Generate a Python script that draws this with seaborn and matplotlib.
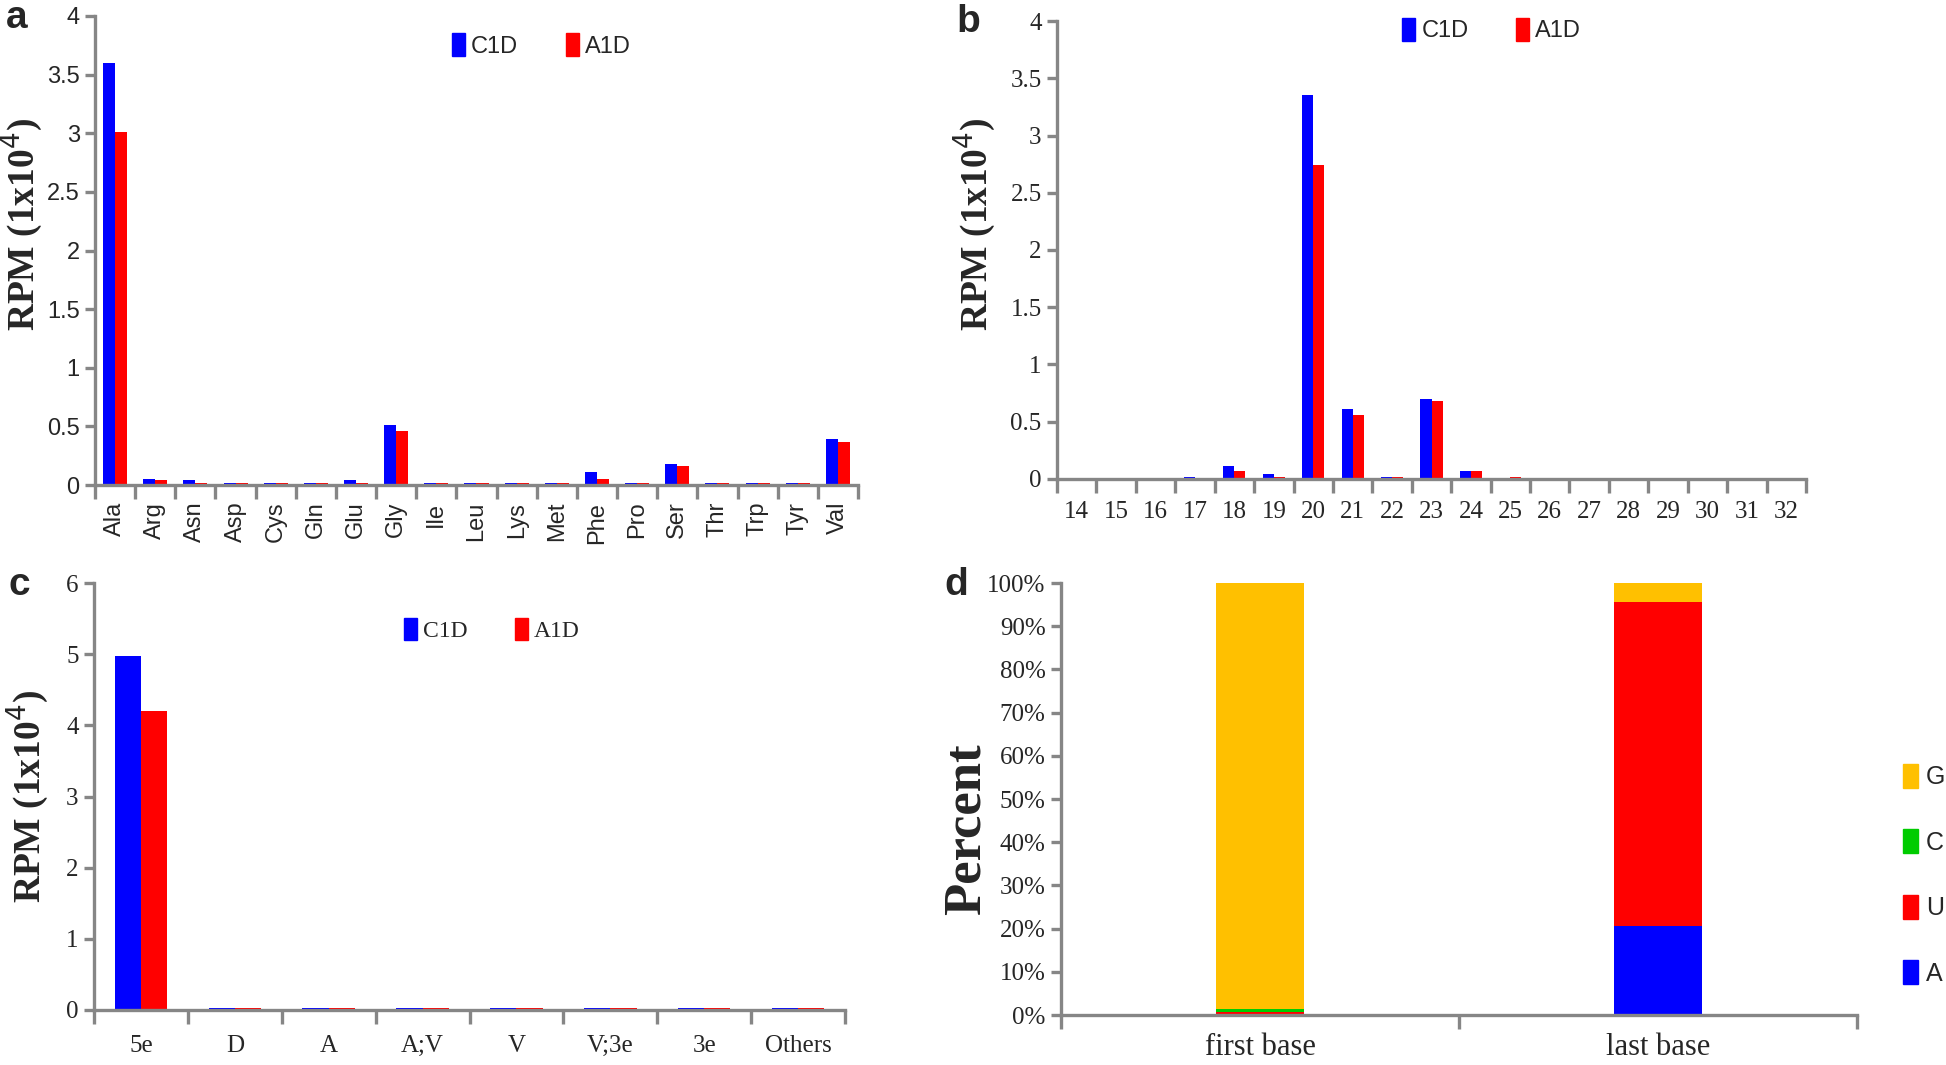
import numpy as np
import pandas as pd
import matplotlib
matplotlib.use("Agg")
import matplotlib.pyplot as plt
import seaborn as sns
from matplotlib.patches import Patch
from matplotlib.ticker import FuncFormatter, MultipleLocator

# Dados
aminoacidos = ['Ala', 'Arg', 'Asn', 'Asp', 'Cys', 'Gln', 'Glu', 'Gly', 'Ile', 'Leu',
               'Lys', 'Met', 'Phe', 'Pro', 'Ser', 'Thr', 'Trp', 'Tyr', 'Val']
amino_c1d = [3.60, 0.05, 0.04, 0.02, 0.02, 0.02, 0.04, 0.51, 0.02, 0.02,
             0.02, 0.02, 0.11, 0.02, 0.18, 0.02, 0.02, 0.02, 0.39]
amino_a1d = [3.01, 0.04, 0.02, 0.02, 0.02, 0.02, 0.02, 0.46, 0.02, 0.02,
             0.02, 0.02, 0.05, 0.02, 0.16, 0.02, 0.02, 0.02, 0.37]

comprimentos = [str(i) for i in range(14, 33)]
comp_c1d = [0, 0, 0, 0.02, 0.11, 0.04, 3.35, 0.61, 0.02, 0.70, 0.07, 0,
            0, 0, 0, 0, 0, 0, 0]
comp_a1d = [0, 0, 0, 0, 0.07, 0.02, 2.74, 0.56, 0.02, 0.68, 0.07, 0.02,
            0, 0, 0, 0, 0, 0, 0]

regioes = ['5e', 'D', 'A', 'A;V', 'V', 'V;3e', '3e', 'Others']
reg_c1d = [4.98, 0.03, 0.03, 0.03, 0.03, 0.03, 0.03, 0.03]
reg_a1d = [4.20, 0.03, 0.03, 0.03, 0.03, 0.03, 0.03, 0.03]

bases = ['first base', 'last base']
nt_a = [0.1, 20.5]
nt_u = [0.7, 75.0]
nt_c = [0.5, 0.2]
nt_g = [98.7, 4.3]

AZUL = '#0000FF'
VERMELHO = '#FF0000'
VERDE = '#00CC00'
AMARELO = '#FFC000'
CINZA = '#868686'
SERIF = ['Liberation Serif', 'DejaVu Serif']
SANS = ['Liberation Sans Narrow', 'Liberation Sans', 'DejaVu Sans']

sns.set_style('white')

W, H = 1946, 1065
fig = plt.figure(figsize=(W / 100, H / 100), dpi=100)


def eixo(left, right, top, bottom):
    # posição em pixels -> fração da figura
    return fig.add_axes([left / W, 1 - bottom / H, (right - left) / W, (bottom - top) / H])


def estilo(ax, n, fonte_ticks, tam_ticks, pad_x):
    for s in ['top', 'right']:
        ax.spines[s].set_visible(False)
    for s in ['left', 'bottom']:
        ax.spines[s].set_color(CINZA)
        ax.spines[s].set_linewidth(2.4)
    ax.set_xlim(-0.5, n - 0.5)
    ax.set_xticks(np.arange(-0.5, n, 1.0), minor=True)
    ax.tick_params(axis='x', which='major', length=0, pad=pad_x)
    ax.tick_params(axis='x', which='minor', length=10, width=2.4, color=CINZA, direction='out', bottom=True)
    ax.tick_params(axis='y', which='major', length=7, width=2.4, color=CINZA, direction='out', left=True, pad=4)
    for lab in ax.get_xticklabels() + ax.get_yticklabels():
        lab.set_family(fonte_ticks)
        lab.set_fontsize(tam_ticks)
    ax.set_xlabel('')


def barras_agrupadas(ax, cats, c1d, a1d, largura):
    df = pd.DataFrame({'cat': cats * 2,
                       'val': c1d + a1d,
                       'grupo': ['C1D'] * len(cats) + ['A1D'] * len(cats)})
    sns.barplot(data=df, x='cat', y='val', hue='grupo', order=cats,
                palette={'C1D': AZUL, 'A1D': VERMELHO}, width=largura,
                saturation=1, linewidth=0, ax=ax)


def legenda(ax, x, y, fonte):
    h = [Patch(color=AZUL), Patch(color=VERMELHO)]
    ax.legend(h, ['C1D', 'A1D'], loc='center', bbox_to_anchor=(x, y), ncol=2,
              frameon=False, handlelength=0.55, handleheight=1.1, handletextpad=0.25,
              columnspacing=2.0, prop={'family': fonte, 'size': 17})


fmt = FuncFormatter(lambda v, p: '{:g}'.format(v))
ROTULO_Y = 'RPM (1x10$^{4}$)'

# a - aminoácidos
ax_a = eixo(95, 858, 16, 485)
barras_agrupadas(ax_a, aminoacidos, amino_c1d, amino_a1d, 0.6)
ax_a.set_ylim(0, 4)
ax_a.yaxis.set_major_locator(MultipleLocator(0.5))
ax_a.yaxis.set_major_formatter(fmt)
estilo(ax_a, len(aminoacidos), SANS, 17, 12)
plt.setp(ax_a.get_xticklabels(), rotation=90)
ax_a.set_ylabel(ROTULO_Y, family=SERIF, weight='bold', fontsize=27, labelpad=1, y=0.556)
legenda(ax_a, 0.585, 0.937, SANS)

# b - comprimento
ax_b = eixo(1057, 1806, 21, 479)
barras_agrupadas(ax_b, comprimentos, comp_c1d, comp_a1d, 0.56)
ax_b.set_ylim(0, 4)
ax_b.yaxis.set_major_locator(MultipleLocator(0.5))
ax_b.yaxis.set_major_formatter(fmt)
estilo(ax_b, len(comprimentos), SERIF, 18, 16)
ax_b.set_ylabel(ROTULO_Y, family=SERIF, weight='bold', fontsize=27, labelpad=8, y=0.556)
legenda(ax_b, 0.58, 0.98, SANS)

# c - regiões
ax_c = eixo(94, 845, 583, 1010)
barras_agrupadas(ax_c, regioes, reg_c1d, reg_a1d, 0.56)
ax_c.set_ylim(0, 6)
ax_c.yaxis.set_major_locator(MultipleLocator(1))
ax_c.yaxis.set_major_formatter(fmt)
estilo(ax_c, len(regioes), SERIF, 18, 18)
ax_c.set_ylabel(ROTULO_Y, family=SERIF, weight='bold', fontsize=27, labelpad=10)
legenda(ax_c, 0.53, 0.89, SERIF)

# d - composição de bases (barras empilhadas)
ax_d = eixo(1061, 1857, 583, 1015)
camadas = [('G', nt_g, AMARELO), ('C', nt_c, VERDE), ('U', nt_u, VERMELHO), ('A', nt_a, AZUL)]
acumulado = np.array(nt_a) + np.array(nt_u) + np.array(nt_c) + np.array(nt_g)
for nome, vals, cor in camadas:
    sns.barplot(x=bases, y=acumulado, color=cor, width=0.22, saturation=1,
                linewidth=0, ax=ax_d)
    acumulado = acumulado - np.array(vals)
ax_d.set_ylim(0, 100)
ax_d.yaxis.set_major_locator(MultipleLocator(10))
ax_d.yaxis.set_major_formatter(FuncFormatter(lambda v, p: '{:.0f}%'.format(v)))
estilo(ax_d, len(bases), SERIF, 18, 13)
for lab in ax_d.get_xticklabels():
    lab.set_fontsize(22)
ax_d.set_ylabel('Percent', family=SERIF, weight='bold', fontsize=38, labelpad=-2, y=0.43)
ax_d.legend([Patch(color=c) for _, _, c in camadas], [n for n, _, _ in camadas],
            loc='center left', bbox_to_anchor=(1.03, 0.325), frameon=False,
            handlelength=0.6, handleheight=1.1, handletextpad=0.3, labelspacing=1.6,
            prop={'family': SANS, 'size': 18})

# letras dos painéis
for letra, x, y in [('a', 17, 18), ('b', 968, 22), ('c', 19, 585), ('d', 956, 585)]:
    fig.text(x / W, 1 - y / H, letra, family=['Liberation Sans', 'DejaVu Sans'],
             weight='bold', fontsize=28, ha='center', va='center')

fig.savefig('out.png', dpi=100)
